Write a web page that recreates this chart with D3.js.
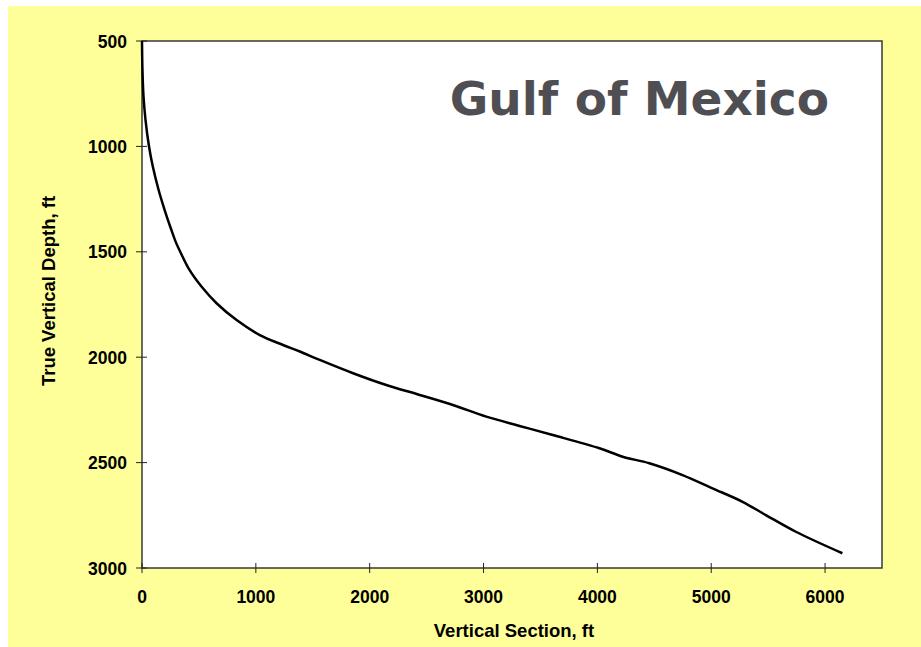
<!DOCTYPE html>
<html>
<head>
<meta charset="utf-8">
<script src="https://d3js.org/d3.v7.min.js"></script>
<style>
  body { margin: 0; background: #fff; }
  text { font-family: "Liberation Sans", Arial, sans-serif; font-weight: bold; }
</style>
</head>
<body>
<script>
// well path: vertical section (ft) vs true vertical depth (ft)
const vsec = [0, 4, 13, 31, 61, 94, 146, 199, 252, 296, 342, 417, 524, 655, 831, 1035, 1239, 1386,
              1561, 1854, 2146, 2439, 2731, 3024, 3316, 3608, 4018, 4222, 4456, 4748, 5011, 5275, 5480, 5743, 6152];
const tvd  = [500, 638, 761, 875, 998, 1093, 1207, 1302, 1387, 1453, 1507, 1586, 1666, 1744, 1824, 1895, 1942, 1973,
              2013, 2076, 2132, 2179, 2227, 2282, 2326, 2369, 2432, 2472, 2503, 2559, 2622, 2686, 2749, 2828, 2930];
const xTicks = [0, 1000, 2000, 3000, 4000, 5000, 6000];
const yTicks = [500, 1000, 1500, 2000, 2500, 3000];

const width = 921, height = 647;
const margin = {left: 142, top: 41, right: 39, bottom: 79};

const svg = d3.select('body').append('svg')
    .attr('width', width)
    .attr('height', height);

// yellow backdrop
svg.append('rect')
    .attr('x', 8).attr('y', 6)
    .attr('width', width - 8).attr('height', height - 6)
    .attr('fill', '#ffff99');

const x = d3.scaleLinear().domain([0, 6500]).range([margin.left, width - margin.right]);
const y = d3.scaleLinear().domain([500, 3000]).range([margin.top, height - margin.bottom]);

svg.append('rect')
    .attr('x', x(0)).attr('y', y(500))
    .attr('width', x(6500) - x(0)).attr('height', y(3000) - y(500))
    .attr('fill', '#fff')
    .attr('stroke', '#383838')
    .attr('stroke-width', 1.5);

// ticks cross the axis lines
svg.selectAll('.xt').data(xTicks).enter().append('line')
    .attr('x1', d => x(d)).attr('x2', d => x(d))
    .attr('y1', y(3000) - 5).attr('y2', y(3000) + 5)
    .attr('stroke', '#222').attr('stroke-width', 1);
svg.selectAll('.yt').data(yTicks).enter().append('line')
    .attr('x1', x(0) - 6).attr('x2', x(0) + 5)
    .attr('y1', d => y(d)).attr('y2', d => y(d))
    .attr('stroke', '#222').attr('stroke-width', 1);

svg.selectAll('.xl').data(xTicks).enter().append('text')
    .attr('x', d => x(d)).attr('y', y(3000) + 35)
    .attr('text-anchor', 'middle')
    .attr('font-size', 17.5)
    .text(d => d);
svg.selectAll('.yl').data(yTicks).enter().append('text')
    .attr('x', x(0) - 15).attr('y', d => y(d) + 6.5)
    .attr('text-anchor', 'end')
    .attr('font-size', 17.5)
    .text(d => d);

svg.append('text')
    .attr('x', 514).attr('y', 637)
    .attr('text-anchor', 'middle')
    .attr('font-size', 18.5)
    .text('Vertical Section, ft');
svg.append('text')
    .attr('transform', 'translate(55,291) rotate(-90)')
    .attr('text-anchor', 'middle')
    .attr('font-size', 18.5)
    .text('True Vertical Depth, ft');

svg.append('text')
    .attr('x', 829).attr('y', 115)
    .attr('text-anchor', 'end')
    .style('font-family', '"DejaVu Sans", Verdana, sans-serif')
    .attr('font-size', 47)
    .attr('fill', '#4f4f53')
    .text('Gulf of Mexico');

const pts = vsec.map((v, i) => [v, tvd[i]]);
const line = d3.line()
    .x(d => x(d[0]))
    .y(d => y(d[1]))
    .curve(d3.curveCatmullRom);

svg.append('path')
    .datum(pts)
    .attr('d', line)
    .attr('fill', 'none')
    .attr('stroke', '#000')
    .attr('stroke-width', 2.5);
</script>
</body>
</html>
